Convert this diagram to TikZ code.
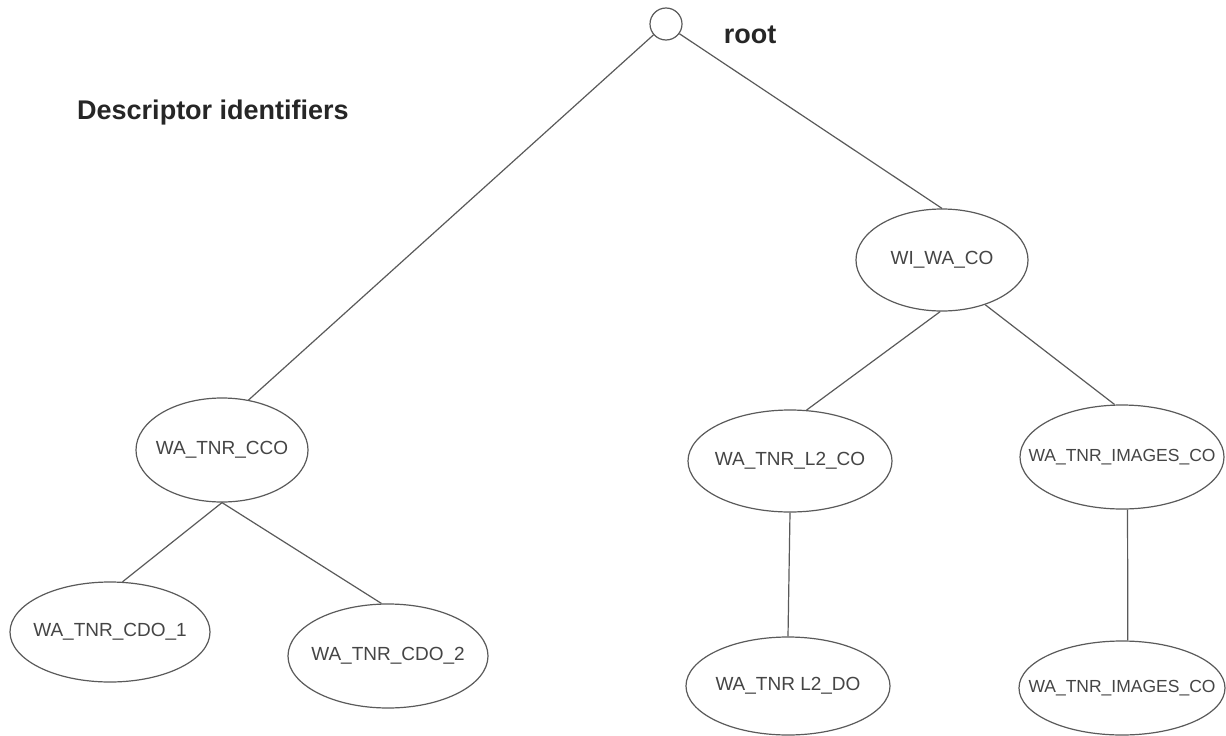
\documentclass[tikz,border=0pt]{standalone}
\usepackage{fontspec}
\setmainfont{Liberation Sans}
\usetikzlibrary{shapes.geometric}
\definecolor{linegray}{HTML}{5A5A5A}
\definecolor{textgray}{HTML}{454545}
\tikzset{
  elnode/.style={ellipse, draw=linegray, line width=1.2pt, inner sep=0pt},
  eltext/.style={text=textgray, inner sep=0pt, font=\fontsize{19}{21}\selectfont},
  smalltext/.style={text=textgray, inner sep=0pt, font=\fontsize{17.5}{19}\selectfont},
  edge/.style={draw=linegray, line width=1.2pt},
  title/.style={font=\bfseries\fontsize{27}{30}\selectfont, text=black!85, inner sep=0pt}
}
\begin{document}
\begin{tikzpicture}[x=1pt,y=-1pt]
\useasboundingbox[fill=white] (0,0) rectangle (1226,736);
\node[circle, draw=linegray, line width=1.2pt, minimum size=32pt, inner sep=0pt] (root) at (666,24) {};
\node[title, anchor=center] (rootlbl) at (750,35) {root};
\node[title, anchor=center] (desc) at (213,113) {Descriptor identifiers};

\node[elnode, minimum width=172pt, minimum height=102pt,
  label={[eltext]center:WI\_WA\_CO}] (wiwa) at (942,260) {};
\node[elnode, minimum width=172pt, minimum height=104pt,
  label={[eltext]center:WA\_TNR\_CCO}] (cco) at (222,450) {};
\node[elnode, minimum width=204pt, minimum height=102pt,
  label={[eltext]center:WA\_TNR\_L2\_CO}] (l2co) at (790,461) {};
\node[elnode, minimum width=204pt, minimum height=104pt,
  label={[smalltext]center:WA\_TNR\_IMAGES\_CO}] (imgco) at (1122,457) {};
\node[elnode, minimum width=200pt, minimum height=100pt,
  label={[eltext]center:WA\_TNR\_CDO\_1}] (cdo1) at (110,632) {};
\node[elnode, minimum width=200pt, minimum height=104pt,
  label={[eltext]center:WA\_TNR\_CDO\_2}] (cdo2) at (388,656) {};
\node[elnode, minimum width=204pt, minimum height=98pt,
  label={[eltext]center:WA\_TNR L2\_DO}] (l2do) at (788,686) {};
\node[elnode, minimum width=206pt, minimum height=94pt,
  label={[smalltext]center:WA\_TNR\_IMAGES\_CO}] (imgdo) at (1122,688) {};

\draw[edge] (root.221) -- (cco.62);
\draw[edge] (root.324) -- (wiwa.north);
\draw[edge] (wiwa.268) -- (l2co.72);
\draw[edge] (wiwa.314) -- (imgco.98);
\draw[edge] (l2co.south) -- (l2do.north);
\draw[edge] (imgco.276) -- (imgdo.83);
\draw[edge] (cco.south) -- (cdo1.76);
\draw[edge] (cco.south) -- (cdo2.97);
\end{tikzpicture}
\end{document}
